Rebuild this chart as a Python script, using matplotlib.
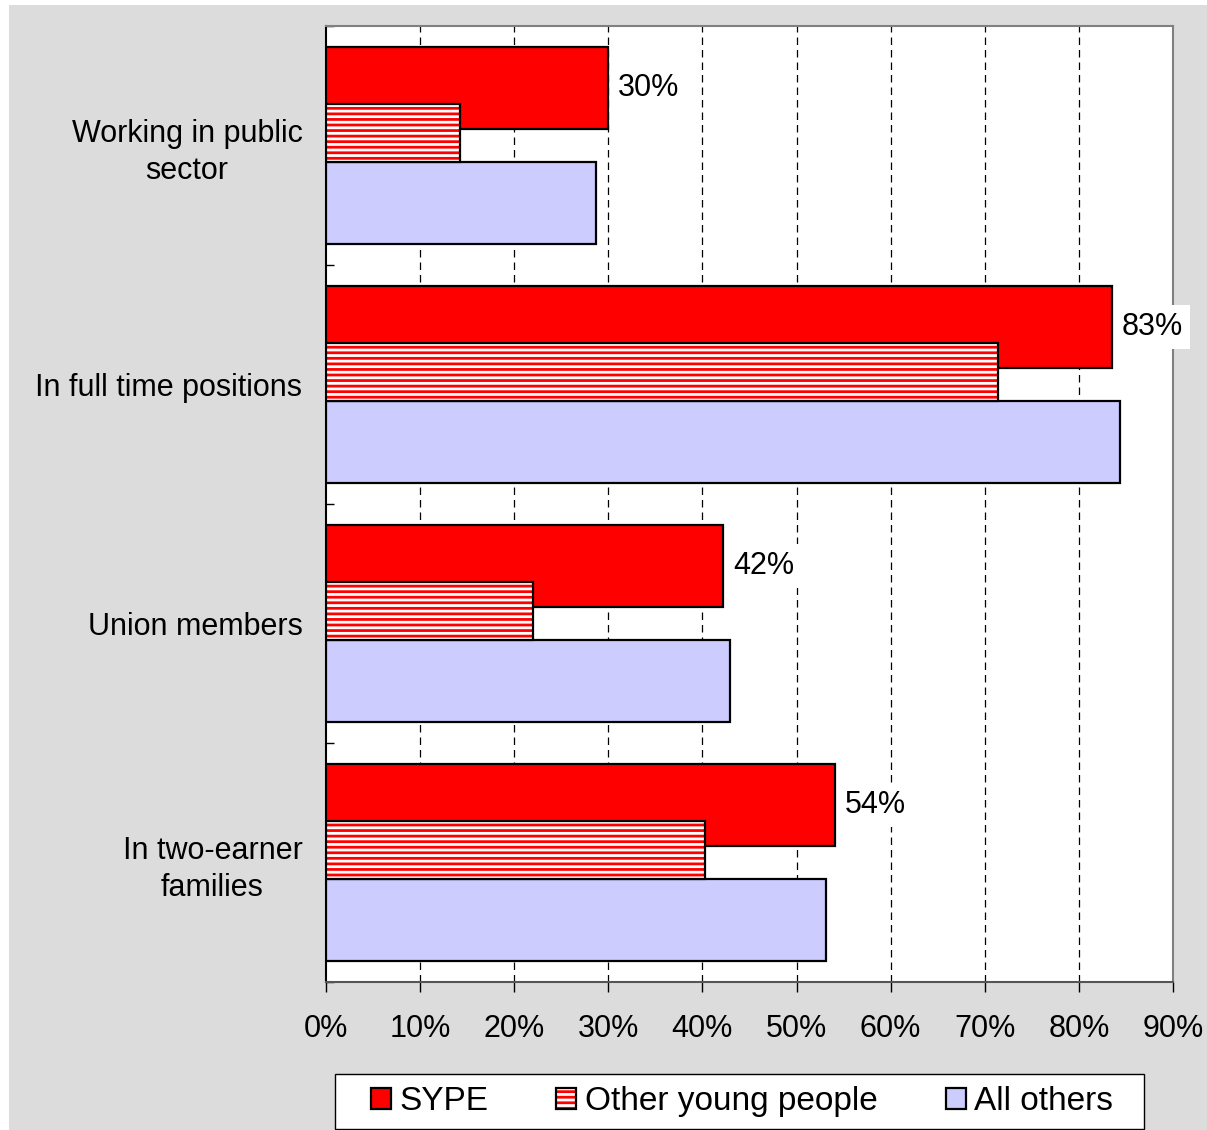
import numpy as np
import matplotlib
matplotlib.use("Agg")
import matplotlib.pyplot as plt
from matplotlib.patches import Patch, Rectangle
from matplotlib.ticker import FuncFormatter

plt.rcParams['font.family'] = ['Liberation Sans', 'DejaVu Sans']
plt.rcParams['font.size'] = 22
plt.rcParams['hatch.linewidth'] = 2.0

categories = ["Working in public\nsector", "In full time positions",
              "Union members", "In two-earner\nfamilies"]
sype = [30.0, 83.5, 42.2, 54.1]
other_young = [14.2, 71.4, 22.0, 40.3]
all_others = [28.7, 84.4, 42.9, 53.1]
sype_labels = ["30%", "83%", "42%", "54%"]

fig = plt.figure(figsize=(12.07, 11.30), dpi=100, facecolor='white')
# grey chart area (thin white strip left and top like the original)
fig.patches.append(Rectangle((9 / 1207, 0), 1 - 9 / 1207, 1 - 5 / 1130,
                             transform=fig.transFigure, facecolor='#dcdcdc',
                             edgecolor='none', zorder=-5))
ax = fig.add_axes([0.2701, 0.13097, 0.7017, 0.84602])
ax.set_facecolor('white')

y0 = np.arange(len(categories))

# SYPE bars
ax.barh(y0 + 0.26, sype, height=0.343, color='#ff0000', edgecolor='black',
        linewidth=1.6, zorder=3)
# other young people: red stripes on white, then black outline
ax.barh(y0 + 0.448, other_young, height=0.243, color='white', edgecolor='#ff0000',
        hatch='---', linewidth=0, zorder=4)
ax.barh(y0 + 0.448, other_young, height=0.243, color='none', edgecolor='black',
        linewidth=1.6, zorder=5)
# all others
ax.barh(y0 + 0.74, all_others, height=0.343, color='#ccccff', edgecolor='black',
        linewidth=1.6, zorder=3)

for y, v, lab in zip(y0, sype, sype_labels):
    ax.text(v + 1.05, y + 0.26, lab, va='center', ha='left', zorder=6,
            clip_on=False,
            bbox=dict(facecolor='white', edgecolor='none', pad=5))

ax.set_xlim(0, 90)
ax.set_ylim(len(categories), 0)
ax.set_xticks(np.arange(0, 91, 10))
ax.xaxis.set_major_formatter(FuncFormatter(lambda v, p: f"{v:.0f}%"))
ax.tick_params(axis='x', direction='out', length=7, width=1, pad=16)
ax.set_yticks(np.arange(0, len(categories) + 1))
ax.set_yticklabels([])
ax.tick_params(axis='y', which='major', direction='in', length=6, width=1)
ax.set_yticks(y0 + 0.5, categories, minor=True)
ax.tick_params(axis='y', which='minor', length=0, pad=17)
for t in ax.get_yticklabels(minor=True):
    t.set_multialignment('center')
    t.set_linespacing(1.3)

ax.grid(axis='x', color='black', linestyle=(0, (6, 4)), linewidth=0.9, zorder=1)
for g in ax.get_xgridlines()[:1] + ax.get_xgridlines()[-1:]:
    g.set_visible(False)

ax.spines['left'].set_color('black')
ax.spines['bottom'].set_color('#555555')
ax.spines['top'].set_color('#808080')
ax.spines['right'].set_color('#808080')
for s in ax.spines.values():
    s.set_linewidth(1.5)

# legend box drawn separately (wider margins than matplotlib's frame)
fig.patches.append(Rectangle((335 / 1207, 1 / 1130), 809 / 1207, 55 / 1130,
                             transform=fig.transFigure, facecolor='white',
                             edgecolor='black', linewidth=1.0, zorder=-4))
h_sype = Patch(facecolor='#ff0000', edgecolor='black', linewidth=1.6)
h_other = (Patch(facecolor='white', edgecolor='#ff0000', hatch='---', linewidth=0),
           Patch(facecolor='none', edgecolor='black', linewidth=1.6))
h_all = Patch(facecolor='#ccccff', edgecolor='black', linewidth=1.6)
leg = fig.legend([h_sype, h_other, h_all], ["SYPE", "Other young people", "All others"],
                 loc='center', bbox_to_anchor=(742 / 1207, 28.5 / 1130), ncol=3,
                 frameon=False, fontsize=24,
                 handlelength=0.6, handleheight=0.6, handletextpad=0.25,
                 columnspacing=2.05, borderpad=0.3)

fig.savefig("out.png", dpi=100, facecolor=fig.get_facecolor())
